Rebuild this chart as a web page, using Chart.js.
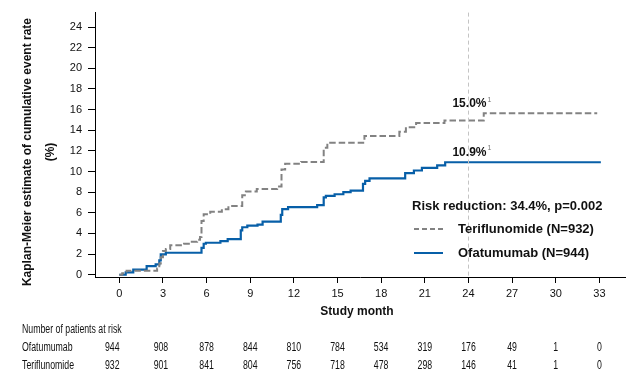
<!DOCTYPE html>
<html>
<head>
<meta charset="utf-8">
<script src="https://cdn.jsdelivr.net/npm/chart.js@4/dist/chart.umd.min.js"></script>
<style>
  html, body { margin: 0; padding: 0; background: #fff; }
  #wrap { width: 640px; height: 378px; position: relative; }
</style>
</head>
<body>
<div id="wrap"><canvas id="c" width="640" height="378"></canvas></div>
<script>
// ---------- DATA ----------
const xTicks = [0, 3, 6, 9, 12, 15, 18, 21, 24, 27, 30, 33];
const yTicks = [0, 2, 4, 6, 8, 10, 12, 14, 16, 18, 20, 22, 24];

const ofaMonths = [0, 0.44, 0.96, 1.88, 2.5, 2.75, 2.85, 3.2, 5.65, 5.8, 5.95, 6.95, 7.45, 8.35, 8.45, 8.8, 9.5, 9.85, 11.1, 11.2, 11.6, 13.6, 14.05, 14.2, 14.8, 15.4, 15.9, 16.75, 16.9, 17.2, 19.65, 20.25, 20.8, 21.85, 22.4, 33.1];
const ofaRates  = [0, 0.23, 0.5, 0.83, 1.0, 1.4, 1.97, 2.13, 2.6, 3.0, 3.1, 3.25, 3.45, 4.3, 4.6, 4.75, 4.85, 5.15, 5.8, 6.35, 6.55, 6.75, 7.5, 7.65, 7.8, 8.0, 8.15, 8.8, 9.1, 9.33, 9.85, 10.1, 10.35, 10.6, 10.9, 10.9];

const terMonths = [0, 0.2, 0.5, 2.6, 2.75, 2.85, 3.0, 3.2, 3.5, 4.45, 4.9, 5.35, 5.55, 5.65, 5.8, 6.25, 7.05, 7.5, 8.45, 8.7, 9.45, 10.85, 11.15, 11.4, 12.5, 14.05, 14.3, 16.85, 19.25, 19.7, 20.4, 22.35, 25.05, 32.85];
const terRates  = [0, 0.15, 0.38, 0.6, 1.1, 1.7, 2.3, 2.5, 2.85, 3.0, 3.2, 3.4, 3.65, 5.2, 5.85, 6.1, 6.35, 6.65, 7.7, 8.07, 8.3, 8.55, 10.2, 10.75, 10.92, 12.3, 12.8, 13.45, 13.85, 14.3, 14.7, 14.95, 15.65, 15.65];

const seriesNames = ['Teriflunomide (N=932)', 'Ofatumumab (N=944)'];
const riskTitle = 'Risk reduction: 34.4%, p=0.002';
const landmarkMonth = 24;
const landmarkLabels = ['15.0%', '10.9%'];
const landmarkValues = [15.0, 10.9];

const riskHeader = 'Number of patients at risk';
const riskRowNames = ['Ofatumumab', 'Teriflunomide'];
const riskOfa = [944, 908, 878, 844, 810, 784, 534, 319, 176, 49, 1, 0];
const riskTer = [932, 901, 841, 804, 756, 718, 478, 298, 146, 41, 1, 0];

const yTitleLines = ['Kaplan-Meier estimate of cumulative event rate', '(%)'];
const xTitle = 'Study month';

// ---------- STYLE ----------
const BLUE = '#075fa8';
const GRAY = '#828282';
const FONT = '"Liberation Sans", Arial, sans-serif';
const NARROW_SCALE = 0.7;

const toPts = (xs, ys) => xs.map((x, i) => ({ x: x, y: ys[i] }));

const overlay = {
  id: 'overlay',
  afterDatasetsDraw(chart) {
    const { ctx, chartArea } = chart;
    const xs = chart.scales.x;
    ctx.save();
    const lx = Math.round(xs.getPixelForValue(landmarkMonth)) + 0.5;
    ctx.strokeStyle = '#c4c4c4';
    ctx.lineWidth = 1;
    ctx.setLineDash([4, 3]);
    ctx.beginPath();
    ctx.moveTo(lx, chartArea.top);
    ctx.lineTo(lx, chartArea.bottom);
    ctx.stroke();
    ctx.restore();
  },
  afterDraw(chart) {
    const { ctx, chartArea } = chart;
    const xs = chart.scales.x, ys = chart.scales.y;
    ctx.save();
    // landmark labels
    const offs = [16, 10];
    ctx.textBaseline = 'middle';
    landmarkLabels.forEach((t, i) => {
      const cx = xs.getPixelForValue(landmarkMonth) + 1;
      const cy = ys.getPixelForValue(landmarkValues[i]) - offs[i];
      ctx.font = 'bold 12px ' + FONT;
      ctx.fillStyle = '#111';
      ctx.textAlign = 'center';
      ctx.fillText(t, cx, cy);
      const w = ctx.measureText(t).width;
      ctx.font = '7px ' + FONT;
      ctx.fillStyle = '#777';
      ctx.textAlign = 'left';
      ctx.fillText('1', cx + w / 2 + 1, cy - 4);
    });

    // legend block
    ctx.fillStyle = '#111';
    ctx.font = 'bold 13px ' + FONT;
    ctx.textAlign = 'left';
    ctx.fillText(riskTitle, 412, 206);
    const legY = [229, 253];
    const legStyles = [{ c: GRAY, d: [5, 3] }, { c: BLUE, d: [] }];
    seriesNames.forEach((n, i) => {
      ctx.strokeStyle = legStyles[i].c;
      ctx.lineWidth = 2;
      ctx.setLineDash(legStyles[i].d);
      ctx.beginPath();
      ctx.moveTo(414, legY[i]);
      ctx.lineTo(443, legY[i]);
      ctx.stroke();
      ctx.setLineDash([]);
      ctx.fillStyle = '#111';
      ctx.fillText(n, 458, legY[i]);
    });

    // axis titles
    ctx.font = 'bold 12px ' + FONT;
    ctx.textAlign = 'center';
    ctx.fillStyle = '#111';
    ctx.fillText(xTitle, (chartArea.left + chartArea.right) / 2 - 3, 312);
    ctx.save();
    ctx.translate(28, 152);
    ctx.rotate(-Math.PI / 2);
    ctx.fillText(yTitleLines[0], 0, 0);
    ctx.restore();
    ctx.save();
    ctx.translate(51, 152);
    ctx.rotate(-Math.PI / 2);
    ctx.fillText(yTitleLines[1], 0, 0);
    ctx.restore();

    // risk table (condensed text)
    const S = NARROW_SCALE;
    ctx.save();
    ctx.scale(S, 1);
    ctx.font = '12.5px ' + FONT;
    ctx.fillStyle = '#111';
    ctx.textAlign = 'left';
    ctx.fillText(riskHeader, 22 / S, 330);
    const rowY = [348, 366];
    [riskOfa, riskTer].forEach((row, r) => {
      ctx.textAlign = 'left';
      ctx.fillText(riskRowNames[r], 22 / S, rowY[r]);
      ctx.textAlign = 'center';
      row.forEach((v, i) => {
        const px = xs.getPixelForValue(xTicks[i]) + (i === 0 ? -7 : (i === 1 ? -2 : 0));
        ctx.fillText(String(v), px / S, rowY[r]);
      });
    });
    ctx.restore();
    ctx.restore();
  }
};

new Chart(document.getElementById('c'), {
  type: 'line',
  data: {
    datasets: [
      {
        label: seriesNames[0],
        data: toPts(terMonths, terRates),
        borderColor: GRAY,
        borderWidth: 2,
        borderDash: [6.5, 3],
        stepped: 'before',
        pointRadius: 0,
        fill: false
      },
      {
        label: seriesNames[1],
        data: toPts(ofaMonths, ofaRates),
        borderColor: BLUE,
        borderWidth: 2.2,
        stepped: 'before',
        pointRadius: 0,
        fill: false
      }
    ]
  },
  options: {
    responsive: false,
    animation: false,
    events: [],
    layout: { padding: { left: 0, right: 15, top: 8, bottom: 56 } },
    plugins: { legend: { display: false }, tooltip: { enabled: false } },
    scales: {
      x: {
        type: 'linear',
        min: -1.67,
        max: 34.76,
        afterBuildTicks: s => { s.ticks = xTicks.map(v => ({ value: v })); },
        afterFit: s => { s.height = 45; },
        grid: { drawOnChartArea: false, drawTicks: true, tickLength: 6, color: '#000' },
        border: { display: true, color: '#000', width: 1 },
        ticks: { color: '#111', font: { family: FONT, size: 11 }, padding: 4, maxRotation: 0, autoSkip: false }
      },
      y: {
        type: 'linear',
        min: -0.22,
        max: 25.4,
        afterBuildTicks: s => { s.ticks = yTicks.map(v => ({ value: v })); },
        afterFit: s => { s.width = 95; },
        grid: { drawOnChartArea: false, drawTicks: true, tickLength: 7, color: '#000' },
        border: { display: true, color: '#000', width: 1 },
        ticks: { color: '#111', font: { family: FONT, size: 11 }, padding: 6, autoSkip: false }
      }
    }
  },
  plugins: [overlay]
});
</script>
</body>
</html>
